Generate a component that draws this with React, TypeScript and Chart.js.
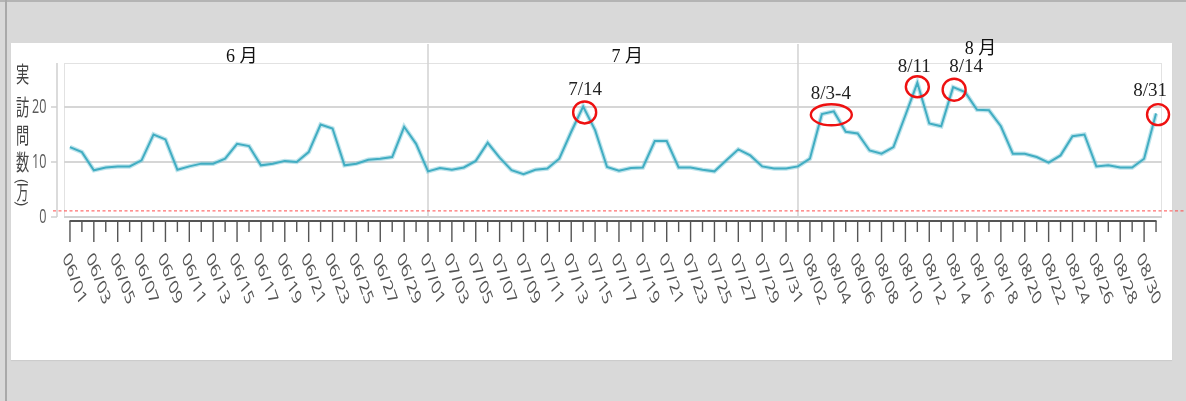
import React, { useEffect, useRef } from "react";
import { Chart, registerables } from "chart.js";

Chart.register(...registerables);

// ---------- data ----------
const MONTHS = ["06", "07", "08"];
const MONTH_DAYS = [30, 31, 31];
const MONTH_NAMES = ["6 月", "7 月", "8 月"];
const DATES: string[] = [];
MONTHS.forEach((m, k) => {
  for (let d = 1; d <= MONTH_DAYS[k]; d++) DATES.push(`${m}/${String(d).padStart(2, "0")}`);
});

// 実訪問数 (万) per day, 06/01 .. 08/31
const VISITS = [
  12.7, 11.8, 8.5, 9.0, 9.2, 9.2, 10.3, 15.0, 14.1, 8.6,
  9.2, 9.7, 9.7, 10.6, 13.3, 12.9, 9.4, 9.7, 10.2, 10.0,
  11.8, 16.8, 16.1, 9.4, 9.7, 10.4, 10.6, 10.9, 16.4, 13.3,
  8.3, 8.9, 8.6, 9.0, 10.2, 13.5, 10.8, 8.5, 7.8, 8.6,
  8.8, 10.6, 15.5, 20.1, 15.8, 9.1, 8.4, 8.9, 9.0, 13.8,
  13.8, 9.0, 9.0, 8.6, 8.3, 10.3, 12.3, 11.2, 9.2, 8.8,
  8.8, 9.2, 10.6, 18.7, 19.2, 15.5, 15.2, 12.1, 11.5, 12.7,
  18.5, 24.4, 17.0, 16.5, 23.6, 22.7, 19.5, 19.4, 16.5, 11.5,
  11.5, 10.9, 9.9, 11.2, 14.7, 15.0, 9.2, 9.4, 9.0, 9.0,
  10.6, 18.8,
];

const Y_TICKS = [0, 10, 20];
const Y_MAX = 28;
const REF_LINE = 1.2;
const Y_TITLE = ["実", "訪", "問", "数"];
const Y_TITLE_UNIT = "万";
const MONTH_START_INDEX = [0, 30, 61];
const MONTH_LABEL_INDEX = [14.4, 46.7, 76.3];

const ANNOT_TEXT = ["7/14", "8/3-4", "8/11", "8/14", "8/31"];
const ANNOT_FROM = [43, 63, 71, 74, 91];
const ANNOT_TO = [43, 64, 71, 74, 91];

// ---------- styling / layout ----------
const ANNOT_STYLE = [
  { ex: 1.5, ey: 6, rx: 11.5, ry: 11, lx: 2, ly: -16 },
  { ex: 3.5, ey: 2, rx: 20.5, ry: 10.5, lx: 3, ly: -18.5 },
  { ex: 0, ey: 4, rx: 11.5, ry: 10.5, lx: -3, ly: -16 },
  { ex: 1, ey: 2.5, rx: 11.5, ry: 11, lx: 13, ly: -20 },
  { ex: 2, ey: 1, rx: 11, ry: 10.5, lx: -6, ly: -23 },
];
const MONTH_LABEL_Y = [57.5, 57.5, 49];

const W = 1186;
const H = 401;
const SQ = 0.63; // horizontal squeeze of the original screenshot text
const GRID = "#d6d6d6";
const DARK = "#555555";
const SANS = '"Open Sans", "Noto Sans", sans-serif';
const SERIF = '"Liberation Serif", "DejaVu Serif", "Noto Sans CJK JP", serif';

function sqText(
  ctx: CanvasRenderingContext2D,
  text: string,
  x: number,
  y: number,
  font: string,
  color: string,
  align: CanvasTextAlign,
  rot = 0,
  sx = SQ
) {
  ctx.save();
  ctx.translate(x, y);
  ctx.scale(sx, 1);
  ctx.rotate(rot);
  ctx.font = font;
  ctx.fillStyle = color;
  ctx.textAlign = align;
  ctx.textBaseline = "middle";
  ctx.fillText(text, 0, 0);
  ctx.restore();
}

const framePlugin = {
  id: "frame",
  beforeDatasetsDraw(chart: any) {
    const { ctx, chartArea: a, scales } = chart;
    const xs = scales.x;
    const ys = scales.y;
    ctx.save();

    // plot box
    ctx.strokeStyle = "#e2e2e2";
    ctx.lineWidth = 1;
    ctx.strokeRect(a.left + 0.5, a.top + 0.5, a.right - a.left - 1, a.bottom - a.top);
    ctx.strokeStyle = "#d0d0d0";
    ctx.lineWidth = 2;
    ctx.beginPath();
    ctx.moveTo(a.left, a.bottom);
    ctx.lineTo(a.right, a.bottom);
    ctx.stroke();

    // horizontal grid
    ctx.strokeStyle = GRID;
    ctx.lineWidth = 2;
    Y_TICKS.forEach((v) => {
      if (v === 0) return;
      const y = ys.getPixelForValue(v);
      ctx.beginPath();
      ctx.moveTo(a.left, y);
      ctx.lineTo(a.right, y);
      ctx.stroke();
    });

    // y axis line + ticks
    const axX = a.left - 7;
    ctx.strokeStyle = "#cfcfcf";
    ctx.lineWidth = 1.5;
    ctx.beginPath();
    ctx.moveTo(axX, a.top);
    ctx.lineTo(axX, a.bottom);
    ctx.stroke();
    Y_TICKS.forEach((v) => {
      const y = ys.getPixelForValue(v);
      ctx.beginPath();
      ctx.moveTo(axX - 6, y);
      ctx.lineTo(axX, y);
      ctx.stroke();
      sqText(ctx, String(v), axX - 10.5, y, `20px ${SANS}`, "#5a5a5a", "right");
    });

    // month separators
    ctx.strokeStyle = "#d2d2d2";
    ctx.lineWidth = 1.5;
    MONTH_START_INDEX.slice(1).forEach((i) => {
      const x = xs.getPixelForValue(i);
      ctx.beginPath();
      ctx.moveTo(x, 44);
      ctx.lineTo(x, a.bottom);
      ctx.stroke();
    });

    // red dashed reference line
    const ry = ys.getPixelForValue(REF_LINE);
    ctx.strokeStyle = "#ff4b4b";
    ctx.lineWidth = 1;
    ctx.setLineDash([3, 2.5]);
    ctx.beginPath();
    ctx.moveTo(axX - 4, ry + 0.5);
    ctx.lineTo(W, ry + 0.5);
    ctx.stroke();
    ctx.setLineDash([]);

    // x axis line + ticks
    const x0 = xs.getPixelForValue(0);
    const x1 = xs.getPixelForValue(DATES.length - 1);
    const axY = a.bottom + 4;
    ctx.strokeStyle = DARK;
    ctx.lineWidth = 2;
    ctx.beginPath();
    ctx.moveTo(x0 - 0.5, axY);
    ctx.lineTo(x1 + 0.5, axY);
    ctx.stroke();
    ctx.lineWidth = 1.4;
    DATES.forEach((lab, i) => {
      const x = xs.getPixelForValue(i);
      const long = i % 2 === 0;
      ctx.beginPath();
      ctx.moveTo(x, axY);
      ctx.lineTo(x, axY + (long ? 21 : 11));
      ctx.stroke();
      if (long) {
        sqText(ctx, lab, x - 4.5, axY + 34, `21px ${SANS}`, "#555555", "left", Math.PI / 3);
      }
    });

    // y title (vertical)
    const tx = 22.5;
    const ty = [74, 107, 135, 162];
    Y_TITLE.forEach((ch, k) => {
      sqText(ctx, ch, tx, ty[k], `22px "Noto Sans CJK JP"`, "#444444", "center", 0, 0.6);
    });
    sqText(ctx, "(", tx, 181, `18px "Noto Sans CJK JP"`, "#444444", "center", Math.PI / 2, 0.75);
    sqText(ctx, Y_TITLE_UNIT, tx, 192, `20px "Noto Sans CJK JP"`, "#444444", "center", 0, 0.6);
    sqText(ctx, ")", tx, 204, `18px "Noto Sans CJK JP"`, "#444444", "center", Math.PI / 2, 0.75);

    // month labels
    MONTH_NAMES.forEach((m, k) => {
      const x = xs.getPixelForValue(MONTH_LABEL_INDEX[k]);
      sqText(ctx, m, x, MONTH_LABEL_Y[k], `18px ${SERIF}`, "#111111", "center", 0, 1);
    });

    ctx.restore();
  },
  afterDatasetsDraw(chart: any) {
    const { ctx, scales } = chart;
    const xs = scales.x;
    const ys = scales.y;
    ctx.save();
    ANNOT_TEXT.forEach((t, k) => {
      const st = ANNOT_STYLE[k];
      let sx = 0;
      let sy = 0;
      let n = 0;
      for (let i = ANNOT_FROM[k]; i <= ANNOT_TO[k]; i++) {
        sx += xs.getPixelForValue(i);
        sy += ys.getPixelForValue(VISITS[i]);
        n++;
      }
      const px = sx / n;
      const py = sy / n;
      ctx.strokeStyle = "#ee1111";
      ctx.lineWidth = 2.4;
      ctx.beginPath();
      ctx.ellipse(px + st.ex, py + st.ey, st.rx, st.ry, 0, 0, Math.PI * 2);
      ctx.stroke();
      sqText(ctx, t, px + st.lx, py + st.ly, `19px ${SERIF}`, "#222222", "center", 0, 1);
    });
    ctx.restore();
  },
};

export default function App() {
  const ref = useRef<HTMLCanvasElement | null>(null);

  useEffect(() => {
    if (!ref.current) return;
    const chart = new Chart(ref.current, {
      type: "line",
      data: {
        labels: DATES,
        datasets: [
          {
            data: VISITS,
            borderColor: "rgba(110,195,212,0.45)",
            borderWidth: 4.5,
            pointRadius: 0,
            tension: 0,
            fill: false,
          },
          {
            data: VISITS,
            borderColor: "#1d9bb3",
            borderWidth: 2,
            pointRadius: 0,
            tension: 0,
            fill: false,
          },
        ],
      },
      options: {
        responsive: false,
        animation: false,
        devicePixelRatio: 1,
        layout: { padding: { left: 64, right: 24, top: 63, bottom: 184 } },
        scales: {
          x: { type: "category", offset: true, display: false },
          y: { min: 0, max: Y_MAX, display: false },
        },
        plugins: {
          legend: { display: false },
          tooltip: { enabled: false },
        },
        events: [],
      },
      plugins: [framePlugin],
    });
    return () => chart.destroy();
  }, []);

  return (
    <div
      style={{
        position: "fixed",
        left: 0,
        top: 0,
        width: W,
        height: H,
        background: "#d9d9d9",
        overflow: "hidden",
      }}
    >
      <div style={{ position: "absolute", left: 0, top: 0, width: W, height: 2, background: "#b4b4b4" }} />
      <div style={{ position: "absolute", left: 5, top: 0, width: 2, height: H, background: "#a9a9a9" }} />
      <div
        style={{
          position: "absolute",
          left: 11,
          top: 43,
          width: 1161,
          height: 317,
          background: "#ffffff",
          boxShadow: "0 1px 1px rgba(0,0,0,0.06)",
        }}
      />
      <canvas
        ref={ref}
        width={W}
        height={H}
        style={{ position: "absolute", left: 0, top: 0, width: W, height: H, display: "block" }}
      />
    </div>
  );
}
